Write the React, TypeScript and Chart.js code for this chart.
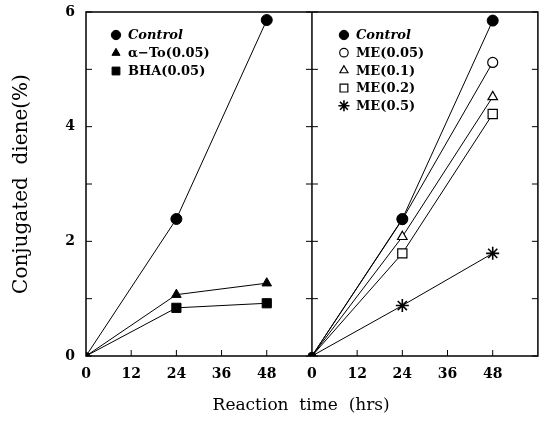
import React, { useEffect, useRef } from "react";
import { Chart, registerables } from "chart.js";
import { drawPoint } from "chart.js/helpers";

Chart.register(...registerables);

// ---- data ----
const TIME = [0, 24, 48];
const X_TICKS = [0, 12, 24, 36, 48];
const PANEL_SPAN = 60; // hours spanned by one panel
const Y_MIN = 0;
const Y_MAX = 6;

const LEFT_LABELS = ["Control", "\u03b1\u2212To(0.05)", "BHA(0.05)"];
const CONTROL = [0, 2.39, 5.86];
const ALPHA_TO = [0, 1.07, 1.27];
const BHA = [0, 0.84, 0.92];

const RIGHT_LABELS = ["Control", "ME(0.05)", "ME(0.1)", "ME(0.2)", "ME(0.5)"];
const CONTROL_R = [0, 2.39, 5.85];
const ME_005 = [0, 2.38, 5.12];
const ME_01 = [0, 2.08, 4.52];
const ME_02 = [0, 1.79, 4.22];
const ME_05 = [0, 0.88, 1.79];

const X_TITLE = "Reaction  time  (hrs)    ";
const Y_TITLE = "Conjugated  diene(%)";

type Style = { pointStyle: string; radius: number; fill: boolean; bw: number };
const LEFT_STYLES: Style[] = [
  { pointStyle: "circle", radius: 5.5, fill: true, bw: 1 },
  { pointStyle: "triangle", radius: 5.5, fill: true, bw: 1 },
  { pointStyle: "rect", radius: 6.5, fill: true, bw: 1 },
];
const RIGHT_STYLES: Style[] = [
  { pointStyle: "circle", radius: 5.5, fill: true, bw: 1 },
  { pointStyle: "circle", radius: 5, fill: false, bw: 1.2 },
  { pointStyle: "triangle", radius: 5.5, fill: false, bw: 1.2 },
  { pointStyle: "rect", radius: 6.5, fill: false, bw: 1.2 },
  { pointStyle: "star", radius: 6.5, fill: false, bw: 1.6 },
];

const SERIF = "'DejaVu Serif', serif";

function makeDataset(label: string, values: number[], offset: number, st: Style, panel: number) {
  return {
    label,
    data: TIME.map((t, i) => ({ x: t + offset, y: values[i] })),
    borderColor: "#000",
    borderWidth: 1,
    pointStyle: st.pointStyle,
    pointRadius: TIME.map((t) => (t === 0 ? 3.5 : st.radius)),
    pointBackgroundColor: TIME.map((t) => (st.fill || t === 0 ? "#000" : "#fff")),
    pointBorderColor: "#000",
    pointBorderWidth: st.bw,
    fill: false,
    tension: 0,
    panel,
    legendStyle: st,
  } as any;
}

const framePlugin = {
  id: "frame",
  afterDatasetsDraw(chart: any) {
    const { ctx, chartArea, scales } = chart;
    const xs = scales.x;
    const ys = scales.y;
    ctx.save();
    ctx.strokeStyle = "#000";
    ctx.lineWidth = 1.5;
    ctx.strokeRect(chartArea.left, chartArea.top, chartArea.right - chartArea.left, chartArea.bottom - chartArea.top);
    const mid = xs.getPixelForValue(PANEL_SPAN);
    ctx.beginPath();
    ctx.moveTo(mid, chartArea.top);
    ctx.lineTo(mid, chartArea.bottom);
    ctx.stroke();
    ctx.lineWidth = 1;
    const len = 6;
    for (let v = Y_MIN; v <= Y_MAX; v++) {
      const y = ys.getPixelForValue(v);
      ctx.beginPath();
      ctx.moveTo(chartArea.left, y);
      ctx.lineTo(chartArea.left + len, y);
      ctx.moveTo(mid - len, y);
      ctx.lineTo(mid + len, y);
      ctx.moveTo(chartArea.right - len, y);
      ctx.lineTo(chartArea.right, y);
      ctx.stroke();
    }
    for (const p of [0, PANEL_SPAN]) {
      for (const t of X_TICKS) {
        if (t === 0) continue;
        const x = xs.getPixelForValue(t + p);
        ctx.beginPath();
        ctx.moveTo(x, chartArea.bottom);
        ctx.lineTo(x, chartArea.bottom - len);
        ctx.stroke();
      }
    }
    ctx.restore();
  },
  afterDraw(chart: any) {
    const { ctx, chartArea, scales } = chart;
    const xs = scales.x;
    const panels = [
      { x0: xs.getPixelForValue(0) + 30, gap: 18 },
      { x0: xs.getPixelForValue(PANEL_SPAN) + 32, gap: 17.7 },
    ];
    const counters = [0, 0];
    ctx.save();
    chart.data.datasets.forEach((ds: any) => {
      const p = ds.panel;
      const cfg = panels[p];
      const row = counters[p]++;
      const y = chartArea.top + 23 + row * cfg.gap;
      const st: Style = ds.legendStyle;
      ctx.fillStyle = st.fill ? "#000" : "#fff";
      ctx.strokeStyle = "#000";
      ctx.lineWidth = st.bw;
      drawPoint(ctx, { pointStyle: st.pointStyle, radius: st.radius * 0.85, rotation: 0, borderWidth: st.bw } as any, cfg.x0, y);
      ctx.fillStyle = "#000";
      ctx.textBaseline = "middle";
      ctx.textAlign = "left";
      ctx.font = (ds.label === "Control" ? "italic bold 13px " : "bold 13px ") + SERIF;
      ctx.fillText(ds.label, cfg.x0 + 12, y + 1);
    });
    ctx.restore();
  },
};

export default function App() {
  const ref = useRef<HTMLCanvasElement | null>(null);
  useEffect(() => {
    if (!ref.current) return;
    const datasets = [
      makeDataset(LEFT_LABELS[0], CONTROL, 0, LEFT_STYLES[0], 0),
      makeDataset(LEFT_LABELS[1], ALPHA_TO, 0, LEFT_STYLES[1], 0),
      makeDataset(LEFT_LABELS[2], BHA, 0, LEFT_STYLES[2], 0),
      makeDataset(RIGHT_LABELS[0], CONTROL_R, PANEL_SPAN, RIGHT_STYLES[0], 1),
      makeDataset(RIGHT_LABELS[1], ME_005, PANEL_SPAN, RIGHT_STYLES[1], 1),
      makeDataset(RIGHT_LABELS[2], ME_01, PANEL_SPAN, RIGHT_STYLES[2], 1),
      makeDataset(RIGHT_LABELS[3], ME_02, PANEL_SPAN, RIGHT_STYLES[3], 1),
      makeDataset(RIGHT_LABELS[4], ME_05, PANEL_SPAN, RIGHT_STYLES[4], 1),
    ];
    const chart = new Chart(ref.current, {
      type: "line",
      data: { datasets },
      plugins: [framePlugin],
      options: {
        animation: false,
        responsive: false,
        layout: { padding: { left: 0, right: 5, top: 12, bottom: 0 } },
        plugins: { legend: { display: false }, tooltip: { enabled: false } },
        scales: {
          x: {
            type: "linear",
            min: 0,
            max: PANEL_SPAN * 2,
            afterBuildTicks: (scale: any) => {
              const ticks: any[] = [];
              [0, PANEL_SPAN].forEach((p) => X_TICKS.forEach((t) => ticks.push({ value: t + p })));
              scale.ticks = ticks;
            },
            afterFit: (scale: any) => {
              scale.height = 71;
              scale.paddingLeft = 0;
              scale.paddingRight = 0;
            },
            ticks: {
              callback: (v: any) => String(Number(v) % PANEL_SPAN),
              font: { family: SERIF, size: 14, weight: "bold" },
              color: "#000",
              padding: 10,
              maxRotation: 0,
              autoSkip: false,
            },
            grid: { display: false, drawTicks: false },
            border: { display: false },
            title: {
              display: true,
              text: X_TITLE,
              font: { family: SERIF, size: 17 },
              color: "#000",
              padding: { top: 0, bottom: 11 },
            },
          },
          y: {
            type: "linear",
            min: Y_MIN,
            max: Y_MAX,
            afterFit: (scale: any) => {
              scale.width = 86;
              scale.paddingTop = 0;
              scale.paddingBottom = 0;
            },
            ticks: {
              stepSize: 2,
              callback: (v: any) => String(v),
              font: { family: SERIF, size: 14, weight: "bold" },
              color: "#000",
              padding: 11,
            },
            grid: { display: false, drawTicks: false },
            border: { display: false },
            title: {
              display: true,
              text: Y_TITLE,
              font: { family: SERIF, size: 20 },
              color: "#000",
              padding: { top: 10, bottom: 0 },
            },
          },
        },
      } as any,
    });
    return () => chart.destroy();
  }, []);
  return (
    <div style={{ position: "absolute", left: 0, top: 0, width: 546, height: 427, background: "#fff" }}>
      <canvas ref={ref} width={546} height={427} style={{ width: 546, height: 427 }} />
    </div>
  );
}
